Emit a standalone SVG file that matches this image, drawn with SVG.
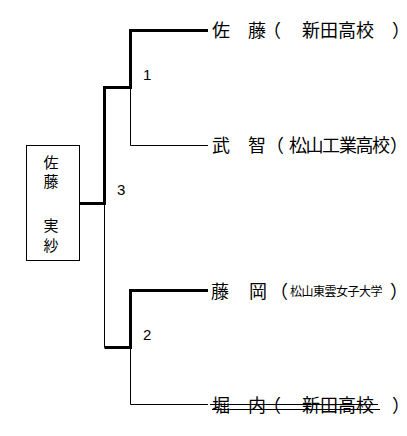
<svg xmlns="http://www.w3.org/2000/svg" width="407" height="436" viewBox="0 0 407 436">
<style>
.bg{fill:#fff}
.thick{fill:none;stroke:#000;stroke-width:3;stroke-linejoin:miter}
.thin{fill:none;stroke:#000;stroke-width:1}
.jp{font-family:"Noto Sans CJK JP","Noto Sans CJK SC",sans-serif;fill:#000}
.big{font-size:18px}
.small{font-size:12px}
.box{font-size:15px;text-anchor:middle}
.num{font-family:"Liberation Sans",Arial,sans-serif;font-size:15px;fill:#000}
.box-rect{fill:#fff;stroke:#000;stroke-width:1}
</style>
<rect class="bg" x="0" y="0" width="407" height="436"/>
<g id="connectors">
<path class="thick" d="M80,203.5 H104.5 V87.5 H130.5 V30.5 H208"/>
<path class="thin" d="M130.5,87.5 V145.5 H208"/>
<path class="thin" d="M104.5,203.5 V347.5"/>
<path class="thick" d="M104.5,347.5 H130.5 V290.5 H208"/>
<path class="thin" d="M130.5,347.5 V404.5 H208"/>
<text class="num" x="143" y="80">1</text>
<text class="num" x="117" y="195">3</text>
<text class="num" x="143" y="340">2</text>
</g>
<g id="winner">
<rect class="box-rect" x="26.5" y="145.5" width="53" height="115"/>
<text class="jp box" x="51" y="168">佐</text>
<text class="jp box" x="51" y="187">藤</text>
<text class="jp box" x="51" y="231">実</text>
<text class="jp box" x="51" y="251">紗</text>
</g>
<g id="p1">
<text class="jp big" y="37" x="212 230 248 263 284 302 320 338 356 374 392">佐　藤（　新田高校　）</text>
</g>
<g id="p2">
<text class="jp big" y="152" x="212 230 248 266 289 305.6 322 339 355.5 372 390">武　智（松山工業高校）</text>
</g>
<g id="p3">
<text class="jp big" y="298" x="211 229 249 270">藤　岡（</text>
<text class="jp small" y="296" x="290 301.5 313 324.5 336 347.5 359 370.5">松山東雲女子大学</text>
<text class="jp big" y="298" x="390">）</text>
</g>
<g id="p4">
<text class="jp big" y="412" x="212 230 248 263 284 302 320 338 356 374 392">堀　内（　新田高校　）</text>
<path class="thin" d="M210,404.5 H378 M212,409.5 H380"/>
</g>
</svg>
